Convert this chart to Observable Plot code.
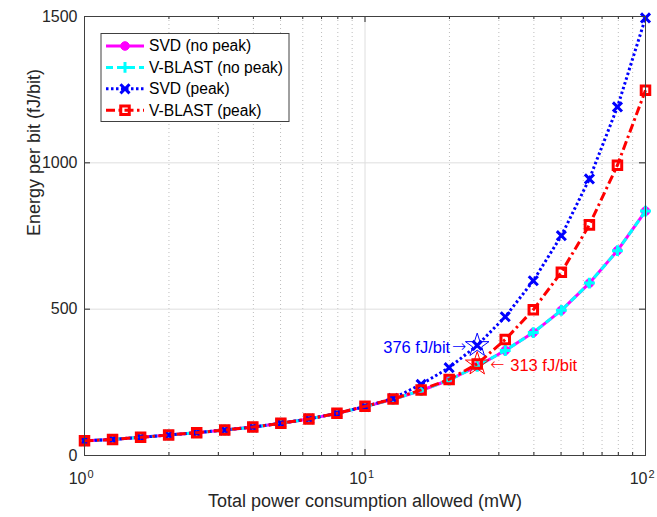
<!DOCTYPE html>
<html><head><meta charset="utf-8">
<script src="https://cdn.jsdelivr.net/npm/d3@7"></script>
<script src="https://cdn.jsdelivr.net/npm/@observablehq/plot@0.6"></script>
<style>
html,body{margin:0;padding:0;background:#fff}
svg{display:block}
</style>
</head><body><div id="chart"></div>
<script>
// ---- data ----
const power = [1, 1.259, 1.585, 1.995, 2.512, 3.162, 3.981, 5.012, 6.310, 7.943, 10, 12.59, 15.85, 19.95, 25.12, 31.62, 39.81, 50.12, 63.10, 79.43, 100];
const svdNoPeak    = [50, 55, 62, 70, 78, 87, 97, 110, 125, 144, 167, 192, 222, 258, 305, 359, 420, 496, 589, 700, 835];
const vblastNoPeak = [50, 55, 62, 70, 78, 87, 97, 110, 125, 144, 167, 192, 222, 258, 305, 359, 420, 496, 589, 700, 835];
const svdPeak      = [50, 55, 62, 70, 78, 87, 97, 110, 125, 144, 167, 195, 243, 300, 376, 474, 597, 751, 945, 1191, 1495];
const vblastPeak   = [50, 55, 62, 70, 78, 87, 97, 110, 125, 144, 168, 193, 224, 260, 313, 396, 498, 626, 788, 992, 1248];

const seriesNames  = ["SVD (no peak)", "V-BLAST (no peak)", "SVD (peak)", "V-BLAST (peak)"];
const seriesColors = ["#ff00ff", "#00ffff", "#0000ff", "#ff0000"];
const seriesDash   = [null, "7,4", "2.5,2.5", "9,3.5,2.5,3.5"];
const seriesSymbol = ["circle", "plus", "times", "square"];
const seriesR      = [4.3, 3.6, 4.2, 4.8];
const seriesValues = [svdNoPeak, vblastNoPeak, svdPeak, vblastPeak];

const xMajorTicks = [1, 10, 100];
const xTickExponents = ["0", "1", "2"];
const xMinorTicks = [2, 3, 4, 5, 6, 7, 8, 9, 20, 30, 40, 50, 60, 70, 80, 90];
const yTicks = [0, 500, 1000, 1500];
const yGrid = [500, 1000];

const annotX = [25.12, 25.12];
const annotY = [376, 313];
const annotColors = ["#0000ff", "#ff0000"];
const annotLabels = ["376 fJ/bit", "313 fJ/bit"];
const annotArrows = ["\u2192", "\u2190"];

const xLabel = "Total power consumption allowed (mW)";
const yLabel = "Energy per bit (fJ/bit)";

// ---- layout ----
const W = 657, H = 517;
const mL = 84, mR = 12, mT = 16, mB = 62;
const pw = W - mL - mR, ph = H - mT - mB;
const FONT = "'Liberation Sans', Arial, Helvetica, sans-serif";
const LW = 3;

const rows = seriesValues.map((vals, i) => power.map((p, j) => ({p, e: vals[j], s: i})));

const seriesMarks = rows.flatMap((data, i) => [
  Plot.line(data, {x: "p", y: "e", stroke: seriesColors[i], strokeWidth: LW,
    strokeDasharray: seriesDash[i] || undefined, strokeLinecap: "butt", strokeLinejoin: "round"}),
  Plot.dot(data, {x: "p", y: "e", symbol: seriesSymbol[i], r: seriesR[i],
    fill: seriesSymbol[i] === "circle" ? seriesColors[i] : "none",
    stroke: seriesColors[i], strokeWidth: seriesSymbol[i] === "circle" ? 1 : LW})
]);

const expLabels = xMajorTicks.map((t, i) => ({t, e: xTickExponents[i]}));
const annots = annotX.map((x, i) => ({x, y: annotY[i], c: annotColors[i], l: annotLabels[i], a: annotArrows[i]}));

const chart = Plot.plot({
  width: W, height: H,
  marginLeft: mL, marginRight: mR, marginTop: mT, marginBottom: mB,
  style: {fontFamily: FONT, background: "#fff", color: "#262626"},
  x: {type: "log", domain: [1, 100]},
  y: {domain: [0, 1500]},
  marks: [
    Plot.ruleX(xMinorTicks, {stroke: "#bdbdbd", strokeDasharray: "1,3", strokeWidth: 1}),
    Plot.ruleX(xMajorTicks, {stroke: "#dedede", strokeWidth: 1}),
    Plot.ruleY(yGrid, {stroke: "#dedede", strokeWidth: 1}),
    // inward ticks
    Plot.tickX(xMajorTicks, {x: d => d, insetTop: ph - 6, stroke: "#262626"}),
    Plot.tickX(xMajorTicks, {x: d => d, insetBottom: ph - 6, stroke: "#262626"}),
    Plot.tickX(xMinorTicks, {x: d => d, insetTop: ph - 3, stroke: "#262626"}),
    Plot.tickX(xMinorTicks, {x: d => d, insetBottom: ph - 3, stroke: "#262626"}),
    Plot.tickY(yTicks, {y: d => d, insetRight: pw - 6, stroke: "#262626"}),
    Plot.tickY(yTicks, {y: d => d, insetLeft: pw - 6, stroke: "#262626"}),
    Plot.axisY(yTicks, {tickSize: 0, tickPadding: 7, fontSize: 16, label: null, tickFormat: d => String(d)}),
    Plot.axisX([], {label: null, tickSize: 0}),
    Plot.text(xMajorTicks, {x: d => d, frameAnchor: "bottom", text: () => "10", textAnchor: "end", dx: 2, dy: 28, fontSize: 16, fill: "#262626"}),
    Plot.text(expLabels, {x: "t", frameAnchor: "bottom", text: "e", textAnchor: "start", dx: 3, dy: 22, fontSize: 11, fill: "#262626"}),
    Plot.text([xLabel], {frameAnchor: "bottom", dy: 51, fontSize: 18, fill: "#262626"}),
    Plot.text([yLabel], {frameAnchor: "left", rotate: -90, dx: -50, fontSize: 18, fill: "#262626"}),
    ...seriesMarks,
    Plot.dot(annots, {x: "x", y: "y", symbol: "star", r: 7.4, fill: "none", stroke: "c", strokeWidth: 1}),
    // blue: label then right arrow, to the left of the star
    Plot.text(annots.slice(0, 1), {x: "x", y: "y", text: "l", fill: "c", textAnchor: "end", dx: -27, dy: 2, fontSize: 16.5}),
    Plot.text(annots.slice(0, 1), {x: "x", y: "y", text: "a", fill: "c", textAnchor: "end", dx: -11, dy: 1, fontSize: 17, fontFamily: "DejaVu Sans", fontWeight: 200}),
    // red: left arrow then label, to the right of the star
    Plot.text(annots.slice(1), {x: "x", y: "y", text: "a", fill: "c", textAnchor: "start", dx: 13, dy: 1, fontSize: 17, fontFamily: "DejaVu Sans", fontWeight: 200}),
    Plot.text(annots.slice(1), {x: "x", y: "y", text: "l", fill: "c", textAnchor: "start", dx: 33, dy: 2, fontSize: 16.5}),
    Plot.frame({stroke: "#404040", strokeWidth: 1})
  ]
});

// ---- legend (drawn inside the plot area) ----
const svg = d3.select(chart);
const lg = svg.append("g").attr("font-family", FONT).attr("text-anchor", "start");
const lx = 101, ly = 33.5, lw = 188, lh = 88;
lg.append("rect").attr("x", lx).attr("y", ly).attr("width", lw).attr("height", lh)
  .attr("fill", "#fff").attr("stroke", "#404040").attr("stroke-width", 1);
const rowY = i => ly + 12.5 + i * 21.4;
const symMap = {circle: d3.symbolCircle, plus: d3.symbolPlus, times: d3.symbolTimes, square: d3.symbolSquare};
seriesNames.forEach((name, i) => {
  const y = rowY(i);
  lg.append("line").attr("x1", lx + 5).attr("x2", lx + 43).attr("y1", y).attr("y2", y)
    .attr("stroke", seriesColors[i]).attr("stroke-width", LW)
    .attr("stroke-dasharray", seriesDash[i] || null);
  const r = seriesR[i];
  lg.append("path").attr("transform", `translate(${lx + 24},${y})`)
    .attr("d", d3.symbol(symMap[seriesSymbol[i]], Math.PI * r * r)())
    .attr("fill", seriesSymbol[i] === "circle" ? seriesColors[i] : "none")
    .attr("stroke", seriesColors[i]).attr("stroke-width", seriesSymbol[i] === "circle" ? 1 : LW);
  lg.append("text").attr("x", lx + 48).attr("y", y).attr("dy", "0.35em")
    .attr("text-anchor", "start").attr("font-size", 15.6).attr("fill", "#000").text(name);
});

document.getElementById("chart").appendChild(chart);
</script>
</body></html>
